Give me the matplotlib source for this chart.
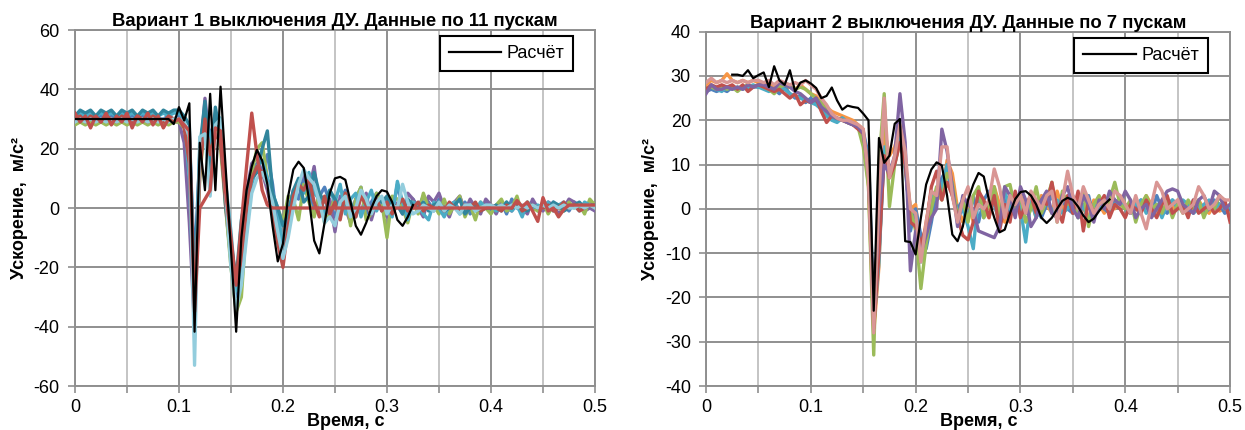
import matplotlib
matplotlib.use("Agg")
import matplotlib.pyplot as plt
import numpy as np

plt.rcParams['font.family'] = ['Liberation Sans', 'DejaVu Sans']
plt.rcParams['axes.unicode_minus'] = False

# ---------- вариант 1: 9 пусков + расчёт ----------
t1_start, t1_step = 0.0, 0.005

l_blue = [30, 31, 30, 31, 30, 31, 30, 31, 30, 31,
          30, 31, 30, 31, 30, 31, 30, 30, 31, 30,
          31, 28, 24, -20, 18, 34, 24, 30, 25, 5,
          -15, -30, -18, 2, 12, 15, 12, 18, 8, -6,
          -12, -2, 6, 3, 10, 6, -2, 4, 7, 2,
          -3, 2, 6, -4, 3, 7, -2, 2, 5, -1,
          3, -2, 8, 0, -2, 3, 0, 4, 2, -1,
          3, -2, 1, 2, -1, 2, -2, 1, 0, 2,
          -1, 1, 2, -2, 3, 0, -1, 1, 2, -1,
          1, -1, 2, 0, 1, -1, 2, 1, 0, 2,
          1]
l_purple = [30, 29.5, 30, 29, 30, 29.5, 30, 29, 30, 29.5,
            30, 29, 30, 29.5, 30, 29, 30, 29.5, 30, 29,
            29, 22, -5, -40, 15, 37, 20, 30, 28, 0,
            -18, -28, -15, 5, 15, 17, 12, 6, -2, -10,
            -16, -8, 5, 8, 12, 6, 14, 0, -4, 3,
            -8, 4, 0, -5, 3, -2, 5, -4, 2, 0,
            -3, 3, 1, -2, 5, 3, 0, -3, 4, 2,
            5, 0, -3, 2, 4, -1, 3, 0, -2, 3,
            1, -2, 2, 0, -1, 2, 0, -2, 3, 0,
            -1, 2, 1, -2, 0, 3, 2, 0, -1, 0,
            -1]
l_green = [28, 29, 28, 29, 28, 29, 28, 29, 28, 29,
           28, 29, 28, 29, 28, 29, 28, 29, 28, 29,
           29, 27, 20, -30, 10, 30, 20, 28, 20, 0,
           -20, -35, -30, -5, 12, 20, 22, 10, 3, 0,
           -5, 4, 3, -4, 8, 2, -3, 5, -5, -2,
           4, -3, 5, -6, 3, 7, -4, -2, 5, 2,
           -10, 4, 3, 0, -5, 2, -2, 5, 0, 1,
           -2, 3, -2, 1, 4, -3, 1, -4, 2, 0,
           -2, 1, 3, -1, 0, 4, -2, 2, 0, -1,
           2, -2, 1, 0, -1, 2, 0, 1, -2, 3,
           1]
l_aqua = [31, 32, 31, 32, 31, 32, 31, 32, 31, 32,
          31, 32, 31, 32, 31, 32, 31, 32, 31, 32,
          32, 30, 10, -38, 18, 34, 22, 32, 30, 8,
          -8, -28, -20, -8, 8, 14, 16, 10, 5, 0,
          -14, -6, 3, 8, 5, 12, 5, 3, -2, 6,
          2, 8, -2, 3, 5, -3, 2, 6, -1, 3,
          1, -3, 9, 2, -4, 2, 1, -2, -4, 2,
          0, -3, 1, 2, -2, 0, 1, -1, 2, 0,
          1, -1, 0, 2, -1, 1, -3, 2, 0, 1,
          0, 2, -1, 1, 2, 0, 1, -1, 2, 1,
          0]
l_teal = [31, 33, 32, 33, 31, 33, 32, 33, 31, 33,
          32, 33, 31, 33, 32, 33, 31, 33, 32, 33,
          33, 31, 28, -30, 20, 36, 12, 34, 24, 0,
          -12, -24, -4, 5, 10, 12, 20, 26, 5, 0,
          -6, -2, 6, 10, 2, 4, 12, 5, 2, 6,
          3, 0, 4, 2, -3, 5, 1, -2, 3, 2,
          4, 0, 1, -2, 3, 1, 0, 2, -1, 1,
          2, -1, 0, 1, 3, -2, 0, 1, -1, 0,
          0, 1, -1, 2, 0, 1, 0, -1, 1, 0,
          1, 0, 2, 1, -1, 0, 1, 2, 0, 1,
          1]
l_red2 = [30, 31, 29, 31, 30, 29, 31, 30, 29, 31,
          30, 29, 31, 30, 29, 31, 30, 29, 31, 30,
          30, 27, 15, -36, 12, 30, 18, 25, 22, 2,
          -14, -25, -18, 0, 10, 14, 12, 8, -2, -12,
          -20, -6, 4, 8, 6, 10, 2, -3, 4, -2,
          2, -4, 5, 0, -3, 4, 1, -2, 3, -1,
          2, -2, 1, 3, -1, 0, 2, -1, 1, 0,
          1, -1, 2, 0, -1, 1, 0, 2, -1, 0,
          1, 0, -1, 1, 0, 2, -1, 0, 1, 0,
          0, 1, -1, 0, 2, 0, 1, -1, 0, 1,
          0]
l_lightblue = [29, 30, 29, 30, 29, 30, 29, 30, 29, 30,
               29, 30, 29, 30, 29, 30, 29, 30, 29, 30,
               30, 29, 24, -53, 24, 25, 4, 28, 30, 5,
               -20, -34, -26, -10, 5, 10, 12, 8, 2, -8,
               -17, -10, 0, 8, 13, 10, 8, 2, -5, -3,
               -6, 2, 4, -3, 0, 6, 3, -2, 2, 4,
               -2, 1, 0, 8, 2, -2, -1, 1, 0, -1,
               2, -1, 1, 0, -2, 1, 1, -1, 0, 1,
               1, 0, 1, 0, 1, 0, 1, 0, 1, 0,
               1, 0, 1, 0, 1, 0, 0, 1, 0, 1,
               0]
l_red = [32, 29, 31, 27, 31, 29, 32, 28, 31, 29,
         32, 27, 31, 29, 32, 28, 31, 27, 30, 29,
         30, 28, 26, -35, 0, 3, 6, 27, 26, 5,
         -10, -26, -5, 14, 32, 18, 6, 1, 0, 0,
         0, 0, 0, 0, 0, 0, 0, 0, 0, 0,
         0, 0, 0, 0, 0, 0, 0, 0, 0, 0,
         0, 0, 0, 0, 0, 0, 0, 0, 0, 0,
         0, 0, 0, 0, 0, 0, 0, 0, 0, 0,
         0, 0, 0, 0, 0, 2.5, 0.5, 2, -1, -4.5,
         3.5, -1, 0, -3, -0.5, 1, 1, 1, 1, 1,
         1]

calc1_start = 0.0
calc1 = [30, 30, 30, 30, 30, 30, 30, 30, 30, 30,
         30, 30, 30, 30, 30, 30, 30, 30, 30, 28.3,
         34, 29.5, 35.3, -41.7, 22, 6, 38.5, 6, 40.9, 13,
         -14, -41.7, -10, 6, 14, 19.6, 16, 8, -6, -18,
         -12, 4, 13, 15.6, 13.5, 3, -11, -15.3, -5, 5,
         10, 10.5, 9.5, 2, -6, -9, -5, 0, 4, 6,
         5.5, 2, -4, -6, -3, 1]

# ---------- вариант 2: 7 пусков + расчёт ----------
r_orange = [28, 29, 28.5, 29, 30.5, 29, 28.5, 29, 28.5, 29,
            28.5, 28, 28.5, 27.5, 28, 27, 27.5, 27, 28, 27,
            26, 25.5, 24, 23, 22, 21.5, 21, 20.5, 20, 19,
            18, 5, -28, -13, 18, 12, 14, 18, 10, 0,
            1, -10, -3, 4, 2, 3, 11, 8, 0, -3,
            2, -3, 4, 0, -2, 5, 1, -3, 3, 0,
            4, -1, 2, -2, 3, 1, -1, 4, 0, 2,
            -1, 3, 0, -2, 2, 1, -1, 2, 0, 3,
            1, -1, 2, 0, 3, 1, -1, 2, 1, 0,
            2, 0, -1, 1, 2, 0, -1, 1, -0.5, 0,
            -0.5]
r_blue = [26.5, 27, 26.5, 27, 26.5, 27.5, 27, 27.5, 27, 27.5,
          27.5, 28, 27.5, 27, 26, 27.5, 26, 25, 25.5, 24,
          25, 24, 23.5, 22, 20.5, 20, 20.5, 19.5, 19, 18.5,
          17.5, 12, -24, -10, 13, 9, 11, 17, 12, -5,
          0, -6, -9, -3, 4, 7, 9, 3, 0, 2,
          -2, 3, -3, 2, 4, 1, -2, 3, -1, 1,
          2, -1, 3, 0, -2, 1, 3, -1, 2, 0,
          -1, 2, 0, 3, -2, 1, 0, -1, 2, 1,
          1, -1, 0, 2, 1, -1, 3, 0, -1, 2,
          1, 0, -1, 2, 1, -1, 0, 2, 1, -1,
          0]
r_aqua = [27, 27.5, 27, 26.5, 27.5, 27, 27.5, 27, 27.5, 28,
          27.5, 27, 26.5, 27, 27.5, 27, 26, 25.5, 25, 24.5,
          24, 23.5, 22.5, 21, 20, 19.5, 20.5, 19.5, 19, 18.5,
          17, 10, -26, -12, 14, 8, 10, 16, 9, -2,
          -3, -12, -6, 3, 2, 5, 10, 4, -2, 0,
          -4, -9, 3, -2, 2, 1, -3, 4, 0, 3,
          0, -7.5, 2, -2, 1, 3, -1, 2, -1, 0,
          3, -2, 1, -3, 1, 0, 2, -1, 1, 2,
          0, -1, 1, 2, -1, 0, 1, -2, 1, 2,
          0, 2, 1, -1, 0, 1, 2, 0, 1, 0,
          0.5]
r_green = [27, 27.5, 27, 27.5, 27, 27.5, 26.5, 27.5, 28, 27.5,
           28, 27.5, 27, 26, 27.5, 28, 27.5, 27, 27.5, 27,
           26, 25, 24, 22, 21, 20.5, 20, 19.5, 19.5, 18.5,
           14, 5, -33, 10, 26, 0.5, 10, 15, 10, 0,
           -5, -18, -8, 0, 5, 2, 8, 6, -2, 2,
           -3, 3, 5, -2, 1, 5, -2, 5, 5.5, 0,
           3, -3, 0, 5, -1, 2, 6, -3, 4, 1,
           2, -2, 4, -4, 1, 3, 0, 2, 6, 1,
           0, 2, -3, 1, 3, 0, 1, -1, 2, -2,
           1, -1, 2, 0, 2, -2, 1, 0, 3, 0,
           1]
r_red = [27, 28, 27.5, 28, 27.5, 28, 27, 28, 26.5, 27.5,
         28, 27.5, 27, 26.5, 27, 26, 25, 26, 23.5, 24.5,
         24, 25, 22, 19.5, 21, 20.5, 20, 19.5, 19, 18,
         17, 9, -27, -10, 12, 7, 10, 15, 10, -3,
         -4, -8, -4, 5, 8.5, 2, 6, 3, -2, -6,
         -7, -3, 4, 2, -2, 3, -5, 1, -3, 4,
         -2, 1, 3, -1, 2, 1, 6, 0, -3, 3,
         -1, 4, -5, 2, -1, 1, 3, -2, 1, 0,
         -2, 1, 0, -1, 2, 0, -2, 1, 3, -1,
         0, 1, -2, 2, -1, 0, 1, -1, 0, 2,
         -3]
r_purple = [26, 28, 27, 27, 27.5, 27, 27.5, 27, 28, 27.5,
            28, 28, 27.5, 27, 28.5, 28, 27.5, 26.5, 26, 25,
            24, 25, 23, 22, 21, 20.5, 20, 19.5, 19, 18.5,
            17, 8, -25, 0, 10, 8, 12, 26, 15, -14,
            -5, -10, -6, -2, 0, 18, 13, 5, -4, 3,
            1, 0, -5, -5.5, -6, -6.5, -4, 5, 3, -2,
            5, 2, -4, -2, 2, 4, -1, -2, 3, 5,
            0, -2, 3, 1, -3, 2, 0, 4, 2, 1,
            4, 2, -2, 0, 1, -2, 0, 2, 4, 4.5,
            4, 1, 0, -1, 2, 3, 0, 4, 3, 0,
            1]
r_pink = [28.5, 29.5, 28.5, 29, 28.5, 29, 28.5, 29, 28.5, 29,
          29, 28.5, 29, 28, 29, 28.5, 28, 28.5, 28, 29,
          28, 27, 25, 23.5, 21.5, 20.5, 20, 20, 19.5, 19,
          18, 7, -28, 3, 25, 7, 12, 19, 13, 0,
          -1, -12, -3, 4, 3, 14, 14, 3, -3, 2,
          5, -2, 1, 0, 2, 9, 5, -2, 3, 1,
          3, -1, 4, 2, 0, 3, 4, -3, 2, 8.5,
          3, 0, 5, 2, -1, 1, 2, 0, 4, 3,
          1, -1, 3, -1, -4.5, 1, 6, 4, 0, 1,
          2, -1, 0, 1, 5, 3, 0, 1, 3, 2,
          2]

calc2_start = 0.025
calc2 = [30.3, 30.3, 30.0, 31.3, 29.5, 30.2, 30.8, 27.5, 32.2, 29.0,
         28.0, 31.3, 26.5, 28.5, 29.0, 28.3, 27.3, 25.0, 25.5, 27.4,
         24.5, 22.4, 23.3, 23.0, 22.8, 21.5, 20.0, -23.0, 16.0, 10.4,
         12.0, 19.2, 20.3, -7.3, -7.5, -10.3, -2.0, 5.5, 8.9, 10.5,
         9.8, 3.0, -5.8, -7.3, -4.0, 2.0, 5.5, 8.1, 7.3, 2.0,
         -2.0, -5.3, -4.7, -1.0, 2.2, 3.8, 4.0, 3.0, 1.0, -2.0,
         -3.2, -2.0, 0.0, 1.8, 2.5, 2.0, 0.5, -1.5, -3.0, -2.2,
         -0.5, 1.0, 2.1]

series1 = [(l_blue, '#4F81BD'), (l_purple, '#8064A2'), (l_green, '#9BBB59'),
           (l_aqua, '#4BACC6'), (l_teal, '#31859C'), (l_red2, '#B8504B'),
           (l_lightblue, '#93CDDD'), (l_red, '#C0504D')]
series2 = [(r_orange, '#F79646'), (r_blue, '#4F81BD'), (r_aqua, '#4BACC6'),
           (r_green, '#9BBB59'), (r_red, '#C0504D'), (r_purple, '#8064A2'),
           (r_pink, '#D99694')]


def time_axis(start, n):
    return np.round(start + t1_step * np.arange(n), 4)


def draw_panel(ax, series, calc, calc_start, ylim, ystep, title):
    for vals, col in series:
        ax.plot(time_axis(t1_start, len(vals)), vals, color=col, lw=2.4,
                solid_joinstyle='round', zorder=3)
    ax.plot(time_axis(calc_start, len(calc)), calc, color='black', lw=1.6,
            label='Расчёт', zorder=4)

    ax.set_xlim(0, 0.5)
    ax.set_ylim(*ylim)
    ax.set_xticks(np.arange(0, 0.51, 0.1))
    ax.set_xticks(np.arange(0.05, 0.5, 0.1), minor=True)
    ax.set_xticklabels(['0', '0.1', '0.2', '0.3', '0.4', '0.5'])
    ax.set_yticks(np.arange(ylim[0], ylim[1] + 1, ystep))
    ax.grid(True, which='major', color='#8f8f8f', lw=1.4, zorder=1)
    ax.grid(True, which='minor', axis='x', color='#c4c4c4', lw=1.4, zorder=1)
    ax.tick_params(which='both', direction='out', length=5, width=1.2,
                   color='#8f8f8f', labelsize=13, pad=6)
    ax.tick_params(axis='x', pad=4)
    for sp in ax.spines.values():
        sp.set_color('#8f8f8f')
        sp.set_linewidth(1.4)
    ax.set_title(title, fontsize=13.3, fontweight='bold', pad=3)
    ax.set_ylabel('Ускорение,  м/с²', fontsize=13, fontweight='bold',
                  labelpad=4)
    ax.set_xlabel('Время, с', fontsize=13, fontweight='bold')
    # подпись оси X прижата под подписи делений
    ax.xaxis.set_label_coords(0.52, -0.077)
    leg = ax.legend(loc='upper right', bbox_to_anchor=(0.958, 0.982),
                    borderaxespad=0, fancybox=False, framealpha=1,
                    fontsize=13, handlelength=2.9, handletextpad=0.3,
                    borderpad=0.5)
    leg.get_frame().set_edgecolor('black')
    leg.get_frame().set_linewidth(1.5)


fig = plt.figure(figsize=(12.45, 4.3), dpi=100)
ax1 = fig.add_axes([0.0602, 0.1023, 0.4177, 0.8279])
ax2 = fig.add_axes([0.5671, 0.1023, 0.4209, 0.8240])

draw_panel(ax1, series1, calc1, calc1_start, (-60, 60), 20,
           'Вариант 1 выключения ДУ. Данные по 11 пускам')
draw_panel(ax2, series2, calc2, calc2_start, (-40, 40), 10,
           'Вариант 2 выключения ДУ. Данные по 7 пускам')

fig.savefig('out.png', dpi=100)
